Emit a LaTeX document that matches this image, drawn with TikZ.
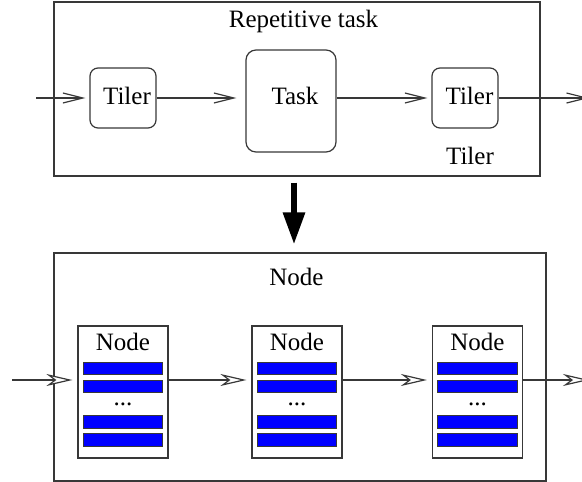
\documentclass[tikz,border=0pt]{standalone}
\usepackage{fontspec}
\setmainfont{Liberation Serif}
\usetikzlibrary{arrows.meta}
\begin{document}
\begin{tikzpicture}[x=1pt,y=-1pt,
  ln/.style={draw=black!78, line width=1.2pt},
  frame/.style={ln, rectangle, inner sep=0pt},
  tilerbox/.style={frame, rounded corners=8pt, minimum width=66pt, minimum height=60pt},
  taskbox/.style={frame, rounded corners=10pt, minimum width=90pt, minimum height=102pt},
  nodebox/.style={frame, minimum width=90pt, minimum height=132pt},
  txt/.style={font=\fontsize{25}{30}\selectfont, inner sep=0pt, anchor=base},
  bar/.style={draw=black!78, line width=0.9pt, fill=blue},
  vee/.style={ln, -{Straight Barb[length=20pt,width=10pt,line width=1.2pt]}},
  notch/.style={ln, -{Stealth[length=26pt,width=12pt,inset=8pt,fill=white,line width=1.2pt]}},
  bigarrow/.style={draw=black, line width=6pt, -{Triangle[length=32pt,width=21pt]}}
]
\clip (0,0) rectangle (582,482);
% top group
\node[frame, minimum width=486pt, minimum height=174pt] (top) at (297,89) {};
\node[txt] (toptitle) at (303.5,27) {Repetitive task};
\node[tilerbox] (t1) at (123,98) {};
\node[txt] (t1l) at (127,104) {Tiler};
\node[taskbox] (task) at (291,101) {};
\node[txt] (taskl) at (295,104) {Task};
\node[tilerbox] (t2) at (465,98) {};
\node[txt] (t2l) at (469.5,104) {Tiler};
\node[txt] (t2cap) at (470,164) {Tiler};
\coordinate (in1) at (36,98);
\coordinate (out1) at (589,98);
\draw[vee, shorten >=4pt] (in1) -- (t1.west);
\draw[vee, shorten >=9pt] (t1.east) -- (t1.east -| task.west);
\draw[vee, shorten >=4pt] (t2.west -| task.east) -- (t2.west);
\draw[vee] (t2.east) -- (out1);
% bottom group
\node[frame, minimum width=492pt, minimum height=228pt] (bot) at (300,367) {};
\node[txt] (bottitle) at (296.5,285) {Node};
\foreach \n/\cx in {n1/123, n2/297, n3/477.5}{
  \node[nodebox] (\n) at (\cx,392) {};
  \node[txt] (\n l) at (\cx,350) {Node};
  \foreach \ya/\yb in {362/374, 380/392, 415/428, 433/446}{
    \draw[bar] ([xshift=6pt]\n.west |- 0,\ya) rectangle ([xshift=-6pt]\n.east |- 0,\yb);
  }
  \node[txt] (\n d) at (\cx,405) {...};
}
\coordinate (in2) at (12,380);
\coordinate (out2) at (589,380);
\draw[notch, shorten >=5pt] (in2) -- (in2 -| n1.west);
\draw[notch, shorten >=5pt] ([yshift=12pt]n1.east) -- ([yshift=12pt]n2.west);
\draw[notch, shorten >=5pt] ([yshift=12pt]n2.east) -- ([yshift=12pt]n3.west);
\draw[notch] ([yshift=12pt]n3.east) -- (out2);
% big arrow
\draw[bigarrow, shorten <=6pt, shorten >=8pt] ([xshift=-3pt]top.south) -- ([xshift=-6pt]bot.north);
\end{tikzpicture}
\end{document}
